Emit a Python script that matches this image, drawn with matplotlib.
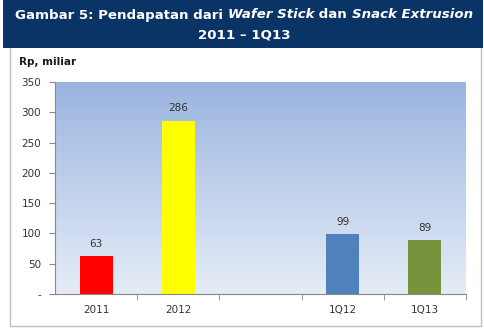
import matplotlib
matplotlib.use("Agg")
import matplotlib.pyplot as plt
import numpy as np
from matplotlib.patches import Rectangle

categories = ["2011", "2012", "", "1Q12", "1Q13"]
values = [63, 286, None, 99, 89]
bar_colors = ["#ff0000", "#ffff00", "none", "#4f81bd", "#77933c"]
yticks = [0, 50, 100, 150, 200, 250, 300, 350]
ytick_labels = ["-", "50", "100", "150", "200", "250", "300", "350"]

W, H = 485, 328
fig = plt.figure(figsize=(W / 100, H / 100), dpi=100)

def px(x, y):
    return x / W, 1 - y / H

# outer white box with border
fig.patches.append(Rectangle(px(10, 326), 471 / W, 280 / H, transform=fig.transFigure,
                             facecolor="white", edgecolor="#bfbfbf", lw=1.0, zorder=-2))
# navy title banner
fig.patches.append(Rectangle(px(3, 48), 480 / W, 48 / H, transform=fig.transFigure,
                             facecolor="#0b3466", edgecolor="none", zorder=-1))

# Title pieces (bold, some italic)
fig.canvas.draw()
renderer = fig.canvas.get_renderer()
pieces = [("Gambar 5: Pendapatan dari ", "normal"), ("Wafer Stick", "italic"),
          (" dan ", "normal"), ("Snack Extrusion", "italic")]
fs = 9.6
texts = []
for s, st in pieces:
    t = fig.text(0, 0, s, fontsize=fs, fontweight="bold", style=st, color="white",
                 va="center", ha="left", family="DejaVu Sans")
    texts.append(t)
widths = [t.get_window_extent(renderer).width for t in texts]
total = sum(widths)
x0 = 244 - total / 2
for t, w in zip(texts, widths):
    t.set_position((x0 / W, 1 - 15 / H))
    x0 += w
fig.text(244 / W, 1 - 35 / H, "2011 \u2013 1Q13", fontsize=fs, fontweight="bold",
         color="white", ha="center", va="center", family="DejaVu Sans")

# axis label
fig.text(19 / W, 1 - 62 / H, "Rp, miliar", fontsize=7.5, fontweight="bold",
         color="#1a1a1a", ha="left", va="center")

left, right, top, bottom = 55, 466, 82, 294
ax = fig.add_axes([left / W, 1 - bottom / H, (right - left) / W, (bottom - top) / H])
ax.set_zorder(1)
ax.set_xlim(-0.5, len(categories) - 0.5)

# gradient background
grad = np.linspace(0, 1, 256).reshape(-1, 1)
top_c = np.array([155, 181, 224]) / 255
bot_c = np.array([229, 236, 246]) / 255
img = top_c[None, None, :] * (1 - grad[:, :, None]) + bot_c[None, None, :] * grad[:, :, None]
ax.imshow(img, extent=[-0.5, len(categories) - 0.5, 0, 350], origin="upper",
          aspect="auto", zorder=0)
ax.set_xlim(-0.5, len(categories) - 0.5)
ax.set_ylim(0, 350)

for i, (v, c) in enumerate(zip(values, bar_colors)):
    if v is None:
        continue
    ax.bar(i, v, width=0.4, color=c, zorder=2)
    ax.text(i, v + 12, str(v), ha="center", va="bottom", fontsize=7.5, color="#333333")

ax.set_xticks(range(len(categories)))
ax.set_xticklabels(categories, fontsize=7.5, color="#333333")
ax.set_xticks(np.arange(0.5, len(categories) - 0.5 + 1, 1.0), minor=True)
ax.tick_params(axis="x", which="major", length=0, pad=8)
ax.tick_params(axis="x", which="minor", length=4, color="#888888")
ax.set_yticks(yticks)
ax.set_yticklabels(ytick_labels, fontsize=7.5, color="#333333")
ax.tick_params(axis="y", length=4, color="#888888", pad=6)
for s in ["top", "right"]:
    ax.spines[s].set_visible(False)
for s in ["left", "bottom"]:
    ax.spines[s].set_color("#888888")
    ax.spines[s].set_linewidth(0.8)

fig.savefig("out.png", dpi=100)
